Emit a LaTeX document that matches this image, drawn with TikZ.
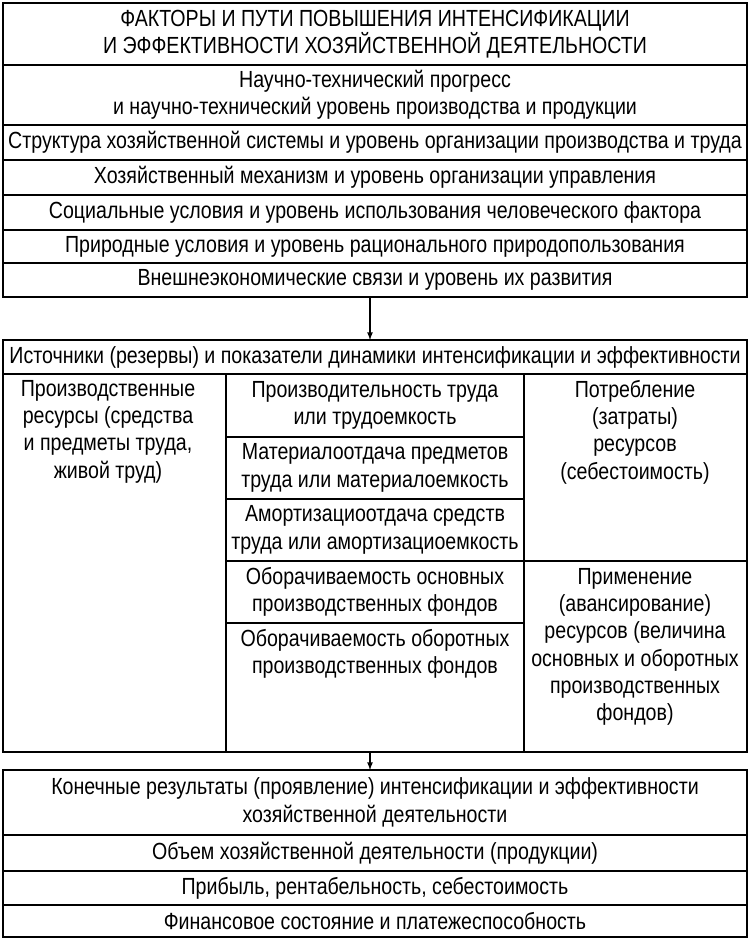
\documentclass[tikz,border=0pt]{standalone}
\usepackage{fontspec}
\setmainfont[FakeStretch=0.84]{Liberation Sans}
\tikzset{every picture/.style={line width=1.5pt}}
\tikzset{cell/.style={inner sep=0pt,align=center,font=\fontsize{17.5}{20.5}\selectfont}}

\begin{document}
\begin{tikzpicture}[x=0.75pt,y=0.75pt,yscale=-1]
\useasboundingbox (0,0) rectangle (750,942);

%Box of factors
\draw (3,3) rectangle (747,297);
\draw (3,65) -- (747,65) (3,125) -- (747,125) (3,160) -- (747,160) (3,195) -- (747,195) (3,230) -- (747,230) (3,263) -- (747,263);
%Box of sources
\draw (3,340) rectangle (747,752);
\draw (3,374) -- (747,374) (226,374) -- (226,752) (524,374) -- (524,752);
\draw (226,437) -- (524,437) (226,499) -- (524,499) (226,561) -- (524,561) (226,623) -- (524,623) (524,561) -- (747,561);
%Box of results
\draw (3,770) rectangle (747,937);
\draw (3,835) -- (747,835) (3,871) -- (747,871) (3,905) -- (747,905);

% Text Node
\node (title) [cell] at (375,34) {ФАКТОРЫ И ПУТИ ПОВЫШЕНИЯ ИНТЕНСИФИКАЦИИ\\И ЭФФЕКТИВНОСТИ ХОЗЯЙСТВЕННОЙ ДЕЯТЕЛЬНОСТИ};
\node (ntp) [cell] at (375,95) {Научно-технический прогресс\\и научно-технический уровень производства и продукции};
\node (struct) [cell] at (375,142.5) {Структура хозяйственной системы и уровень организации производства и труда};
\node (mech) [cell] at (375,177.5) {Хозяйственный механизм и уровень организации управления};
\node (soc) [cell] at (375,212.5) {Социальные условия и уровень использования человеческого фактора};
\node (nat) [cell] at (375,246.5) {Природные условия и уровень рационального природопользования};
\node (ext) [cell] at (375,280) {Внешнеэкономические связи и уровень их развития};

% Text Node
\node (src) [cell] at (375,357) {Источники (резервы) и показатели динамики интенсификации и эффективности};
\node (res) [cell,anchor=north] at (108,379) {Производственные\\ресурсы (средства\\и предметы труда,\\живой труд)};
\node (prod) [cell] at (375,405.5) {Производительность труда\\или трудоемкость};
\node (mat) [cell] at (375,468) {Материалоотдача предметов\\труда или материалоемкость};
\node (amort) [cell] at (375,530) {Амортизациоотдача средств\\труда или амортизациоемкость};
\node (osn) [cell] at (375,592) {Оборачиваемость основных\\производственных фондов};
\node (obor) [cell,anchor=north] at (375,628) {Оборачиваемость оборотных\\производственных фондов};
\node (potr) [cell,anchor=north] at (635,379) {Потребление\\(затраты)\\ресурсов\\(себестоимость)};
\node (prim) [cell,anchor=north] at (635,567) {Применение\\(авансирование)\\ресурсов (величина\\основных и оборотных\\производственных\\фондов)};

% Text Node
\node (kon) [cell] at (375,802.5) {Конечные результаты (проявление) интенсификации и эффективности\\хозяйственной деятельности};
\node (vol) [cell] at (375,853) {Объем хозяйственной деятельности (продукции)};
\node (prib) [cell] at (375,888) {Прибыль, рентабельность, себестоимость};
\node (fin) [cell] at (375,921) {Финансовое состояние и платежеспособность};

%Arrows
\coordinate (a1) at (370,297);
\coordinate (b1) at (370,340);
\coordinate (a2) at (370,752);
\coordinate (b2) at (370,770);
\draw [line width=1pt,-latex] (a1) -- (b1);
\draw [line width=1pt,-latex] (a2) -- (b2);
\end{tikzpicture}
\end{document}
